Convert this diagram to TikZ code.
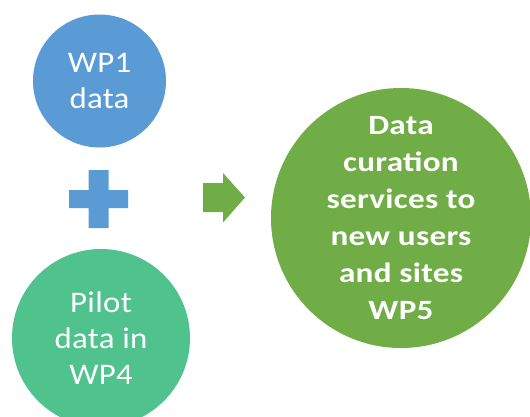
\documentclass[tikz,border=0pt]{standalone}
\usepackage{fontspec}
\setmainfont{Carlito}
\newfontfamily\smallfont[FakeStretch=1.1,LetterSpace=1]{Carlito}
\newfontfamily\bigfont[FakeStretch=1.19,LetterSpace=1]{Carlito}
\definecolor{wpblue}{HTML}{5B9BD5}
\definecolor{wpteal}{HTML}{4FC28D}
\definecolor{wpgreen}{HTML}{70AD47}
\begin{document}
\begin{tikzpicture}[x=1bp,y=-1bp,
  bubble/.style={circle,inner sep=0pt,text=white,align=center},
  smalltext/.style={font=\smallfont\fontsize{30}{36.5}\selectfont},
  bigtext/.style={font=\bigfont\bfseries\fontsize{28}{37}\selectfont}]
\useasboundingbox (0,0) rectangle (530,416);
\begin{scope}
\clip (0,0) rectangle (530,416);
\node[bubble,fill=wpblue,minimum size=133bp,smalltext] (wp1) at (99.5,81) {WP1\\data};
\node[bubble,fill=wpteal,minimum size=178bp,smalltext] (pilot) at (101,338) {Pilot\\data in\\WP4};
\node[bubble,fill=wpgreen,minimum size=260bp,bigtext] (wp5) at (401,218) {Data\\curation\\services to\\new users\\and sites\\WP5};
\end{scope}
\coordinate (plus) at (98.5,199);
\fill[wpblue] ([xshift=-10bp,yshift=29bp]plus) rectangle ([xshift=10bp,yshift=-29bp]plus)
              ([xshift=-29.5bp,yshift=9bp]plus) rectangle ([xshift=29.5bp,yshift=-9bp]plus);
\coordinate (arr) at (203,197.5);
\fill[wpgreen] (arr) ++(0,-14.5) -- ++(20,0) -- ++(0,-10) -- (245,197.5) -- (223,222.5) -- (223,212) -- (203,212) -- cycle;
\end{tikzpicture}
\end{document}
